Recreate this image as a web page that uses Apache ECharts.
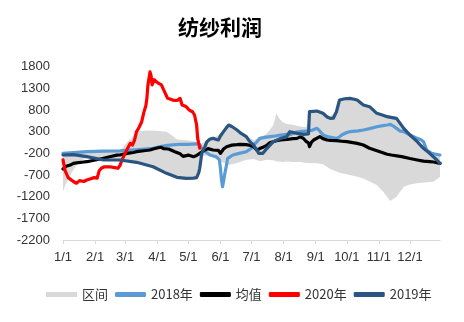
<!DOCTYPE html>
<html>
<head>
<meta charset="utf-8">
<script src="https://cdn.jsdelivr.net/npm/echarts@6/dist/echarts.min.js"></script>
<style>
  html, body { margin: 0; padding: 0; background: #fff; }
  #chart { width: 464px; height: 322px; }
</style>
</head>
<body>
<div id="chart"></div>
<script>
// Day-of-year positions (leap year) for the month ticks and their labels
const monthDays = [0, 31, 60, 91, 121, 152, 182, 213, 244, 274, 305, 335];
const monthLabels = ['1/1', '2/1', '3/1', '4/1', '5/1', '6/1', '7/1', '8/1', '9/1', '10/1', '11/1', '12/1'];

// Value axis range (yuan/ton)
const yMin = -2200;
const yMax = 1800;
const yStep = 500;

// 区间: historical min / max envelope
const bandDays = [0, 2, 5, 9, 15, 23, 39, 55, 62, 66, 71, 80, 90, 100, 106, 110, 120, 129, 132, 134, 140, 145, 152, 158, 160, 168, 177, 184, 190, 197, 203, 206, 209, 212, 216, 222, 229, 235, 238, 245, 251, 258, 264, 267, 277, 284, 290, 296, 303, 309, 316, 322, 329, 335, 342, 348, 354, 358, 364];
const bandLow  = [-1080, -950, -800, -620, -400, -300, -360, -360, -370, -380, -410, -440, -550, -660, -730, -760, -780, -770, -560, -260, -250, -300, -380, -450, -470, -420, -350, -330, -380, -350, -360, -380, -390, -400, -390, -400, -400, -420, -420, -430, -450, -560, -620, -650, -700, -740, -780, -850, -930, -1080, -1300, -1200, -970, -920, -890, -870, -860, -850, -740];
const bandHigh = [-180, -180, -180, -170, -170, -160, -150, -140, 60, 150, 300, 330, 320, 300, 200, 120, 100, 60, 40, 20, 130, 150, 250, 380, 430, 340, 200, 100, 160, 260, 450, 720, 600, 520, 480, 460, 420, 400, 760, 780, 730, 660, 770, 1040, 1070, 1030, 920, 880, 730, 680, 640, 610, 380, 230, 80, -80, -180, -200, -230];

// 2018年
const days2018 = [0, 10, 23, 40, 55, 70, 87, 95, 103, 113, 121, 129, 132, 135, 142, 148, 151, 152, 153, 154, 155, 156, 158, 159, 164, 170, 177, 182, 184, 187, 190, 195, 200, 205, 210, 216, 219, 222, 226, 229, 235, 240, 245, 247, 248, 251, 255, 261, 264, 267, 269, 274, 277, 285, 290, 296, 303, 309, 313, 316, 319, 322, 325, 329, 335, 342, 346, 348, 350, 351, 356, 360, 364];
const vals2018 = [-200, -185, -162, -150, -145, -120, -83, -40, -8, 10, 8, 20, 0, -123, -238, -277, -350, -545, -800, -970, -850, -700, -450, -315, -238, -200, -162, -83, -8, 60, 146, 170, 185, 200, 223, 239, 230, 262, 290, 300, 316, 330, 377, 340, 300, 230, 185, 160, 146, 180, 223, 280, 300, 320, 339, 370, 415, 440, 454, 470, 430, 377, 320, 300, 223, 146, 108, 69, -50, -123, -200, -220, -238];

// 均值
const daysMean = [0, 3, 7, 10, 13, 20, 23, 30, 36, 39, 45, 52, 55, 62, 68, 71, 78, 84, 87, 92, 95, 97, 102, 108, 113, 116, 121, 126, 129, 132, 137, 140, 145, 150, 152, 155, 158, 163, 168, 171, 177, 181, 184, 187, 190, 193, 197, 200, 203, 206, 210, 216, 222, 226, 229, 232, 235, 237, 238, 240, 242, 248, 251, 255, 258, 264, 269, 274, 277, 284, 290, 296, 306, 313, 317, 327, 335, 342, 348, 354, 358, 364];
const valsMean = [-560, -500, -470, -430, -420, -400, -393, -360, -330, -315, -280, -240, -238, -200, -180, -162, -140, -123, -100, -70, -60, -90, -100, -162, -210, -270, -240, -277, -250, -200, -123, -90, -123, -130, -200, -100, -46, -10, 0, 8, 0, -20, -46, -123, -90, -60, -8, 50, 69, 90, 108, 120, 140, 146, 180, 150, 69, 40, -46, 60, 108, 185, 140, 108, 100, 92, 80, 69, 60, 31, -8, -83, -162, -220, -238, -277, -320, -353, -380, -393, -400, -430];

// 2020年
const days2020 = [0, 2, 5, 10, 13, 16, 20, 23, 26, 30, 33, 35, 37, 40, 45, 50, 53, 55, 57, 60, 62, 65, 67, 69, 71, 73, 76, 78, 80, 81, 82, 84, 85, 86, 88, 89, 92, 95, 98, 101, 104, 106, 109, 111, 113, 115, 117, 119, 122, 125, 127, 129, 130, 132];
const vals2020 = [-350, -600, -760, -850, -890, -830, -850, -815, -790, -760, -770, -600, -545, -510, -510, -530, -545, -480, -350, -200, -100, 30, -10, 100, 300, 380, 530, 740, 900, 1070, 1380, 1680, 1600, 1380, 1500, 1530, 1420, 1380, 1225, 1070, 1050, 1030, 1020, 1030, 1070, 915, 900, 875, 800, 760, 685, 455, 150, -80];

// 2019年
const days2019 = [0, 10, 23, 39, 55, 71, 87, 100, 110, 119, 126, 129, 131, 132, 134, 137, 139, 142, 145, 148, 150, 152, 155, 158, 160, 163, 168, 172, 177, 180, 182, 184, 187, 189, 190, 193, 197, 203, 210, 216, 219, 226, 232, 237, 238, 242, 245, 251, 255, 258, 261, 264, 267, 272, 277, 281, 284, 290, 296, 303, 309, 313, 319, 322, 329, 335, 342, 348, 354, 361, 364];
const vals2019 = [-238, -230, -277, -353, -353, -407, -508, -662, -754, -776, -770, -760, -650, -545, -200, -50, 69, 130, 146, 120, 108, 200, 300, 400, 454, 420, 339, 260, 185, 80, 31, -8, -120, -200, -222, -200, -83, 69, 146, 185, 300, 262, 239, 250, 761, 770, 777, 724, 640, 608, 610, 761, 1031, 1060, 1070, 1050, 1031, 916, 877, 724, 680, 646, 620, 608, 377, 223, 69, -83, -200, -353, -430];

const pairs = (xs, ys) => xs.map((x, i) => [x, ys[i]]);
const bandData = bandDays.map((d, i) => [d, bandLow[i], bandHigh[i]]);

const cnFont = '"Noto Sans CJK SC", "Noto Sans", sans-serif';
const numFont = '"Liberation Sans", Arial, sans-serif';

function lineSeries(name, data, color) {
  return {
    name: name,
    type: 'line',
    data: data,
    symbol: 'none',
    smooth: false,
    lineStyle: { color: color, width: 3.2, join: 'round', cap: 'round' },
    itemStyle: { color: color },
    emphasis: { disabled: true }
  };
}

const chart = echarts.init(document.getElementById('chart'), null, { renderer: 'canvas' });

chart.setOption({
  animation: false,
  backgroundColor: '#ffffff',
  title: {
    text: '纺纱利润',
    left: 173,
    top: 12,
    textStyle: { fontFamily: cnFont, fontSize: 21, fontWeight: 'bold', color: '#000' }
  },
  legend: {
    left: 41,
    top: 283,
    itemWidth: 31,
    itemHeight: 5,
    itemGap: 7,
    textStyle: { fontFamily: cnFont, fontSize: 13, color: '#333' },
    data: [
      { name: '区间', icon: 'rect', itemStyle: { color: '#D9D9D9' } },
      { name: '2018年', icon: 'roundRect' },
      { name: '均值', icon: 'roundRect' },
      { name: '2020年', icon: 'roundRect' },
      { name: '2019年', icon: 'roundRect' }
    ]
  },
  grid: { left: 63, right: 24, top: 66.7, bottom: 82, containLabel: false },
  xAxis: {
    type: 'value',
    min: 0,
    max: 364,
    z: 5,
    axisLine: { show: true, onZero: false, lineStyle: { color: '#D9D9D9', width: 1 } },
    axisTick: { show: true, customValues: monthDays, length: 4, lineStyle: { color: '#D9D9D9' } },
    axisLabel: {
      customValues: monthDays,
      formatter: v => monthLabels[monthDays.indexOf(v)],
      margin: 11,
      fontFamily: numFont,
      fontSize: 13,
      color: '#333'
    },
    splitLine: { show: false }
  },
  yAxis: {
    type: 'value',
    min: yMin,
    max: yMax,
    interval: yStep,
    axisLine: { show: false },
    axisTick: { show: false },
    splitLine: { show: false },
    axisLabel: { margin: 13, fontFamily: numFont, fontSize: 13, color: '#333', formatter: v => String(v) }
  },
  series: [
    {
      name: '区间',
      type: 'custom',
      data: bandData,
      encode: { x: 0, y: [1, 2] },
      itemStyle: { color: '#D9D9D9' },
      silent: true,
      renderItem: function (params, api) {
        if (params.dataIndex !== 0) return null;
        const top = bandData.map(p => api.coord([p[0], p[2]]));
        const bottom = bandData.map(p => api.coord([p[0], p[1]])).reverse();
        return {
          type: 'polygon',
          shape: { points: top.concat(bottom) },
          style: { fill: '#D9D9D9', stroke: null }
        };
      }
    },
    lineSeries('2018年', pairs(days2018, vals2018), '#5B9BD5'),
    lineSeries('均值', pairs(daysMean, valsMean), '#000000'),
    lineSeries('2020年', pairs(days2020, vals2020), '#FF0000'),
    lineSeries('2019年', pairs(days2019, vals2019), '#2A5580')
  ]
});
</script>
</body>
</html>
